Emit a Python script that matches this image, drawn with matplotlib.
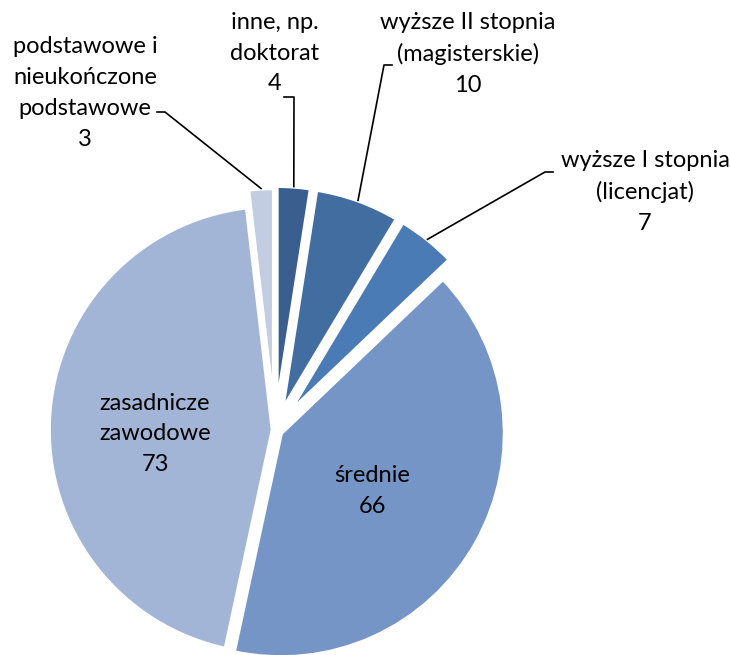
import numpy as np
import matplotlib.pyplot as plt

plt.rcParams['font.family'] = ['Lato', 'DejaVu Sans']

# dane
etykiety = ['inne, np.\ndoktorat', 'wyższe II stopnia\n(magisterskie)', 'wyższe I stopnia\n(licencjat)',
            'średnie', 'zasadnicze\nzawodowe', 'podstawowe i\nnieukończone\npodstawowe']
wartosci = [4, 10, 7, 66, 73, 3]
kolory = ['#3a5f8f', '#426da0', '#4a7bb4', '#7495c6', '#a3b5d6', '#c2cde2']
rozsun = [0.09, 0.09, 0.09, 0.03, 0.01, 0.08]

# piksele -> dane (srodek kola i promien w pikselach)
cx, cy, R = 275, 430, 224
def px(x, y):
    return (x - cx) / R, (cy - y) / R

fig = plt.figure(figsize=(7.3, 6.55), dpi=100)
ax = fig.add_axes([0, 0, 1, 1])

wedges, _ = ax.pie(wartosci, colors=kolory, startangle=90, counterclock=False,
                   explode=rozsun, radius=1.0,
                   wedgeprops=dict(edgecolor='white', linewidth=3))
ax.set_xlim(-cx / R, (730 - cx) / R)
ax.set_ylim(-(655 - cy) / R, cy / R)
ax.set_aspect('equal')
ax.axis('off')

fs = 17
ls = 1.57
# etykiety wewnatrz
for i, pos in [(4, px(155, 434)), (3, px(372, 491))]:
    ax.text(pos[0], pos[1], etykiety[i] + '\n' + str(wartosci[i]), ha='center', va='center',
            fontsize=fs, color='black', linespacing=ls)

# etykiety zewnetrzne: (indeks, srodek tekstu, punkty linii odniesienia w pikselach)
zewn = [
    (5, (85, 93), [(157, 112), (165, 112)]),
    (0, (275, 53), [(284, 97), (294, 97)]),
    (1, (468, 54), [(392, 65), (384, 65)]),
    (2, (645, 192), [(553, 172), (545, 172)]),
]
for i, tpos, linia in zewn:
    x, y = px(*tpos)
    ax.text(x, y, etykiety[i] + '\n' + str(wartosci[i]), ha='center', va='center',
            fontsize=fs, color='black', linespacing=ls)
    w = wedges[i]
    kat = np.deg2rad((w.theta1 + w.theta2) / 2)
    cxw, cyw = w.center
    kx, ky = cxw + np.cos(kat) * w.r, cyw + np.sin(kat) * w.r
    pts = [px(*p) for p in linia] + [(kx, ky)]
    ax.plot([p[0] for p in pts], [p[1] for p in pts], color='black', lw=1.2)

plt.savefig('out.png', dpi=100)
